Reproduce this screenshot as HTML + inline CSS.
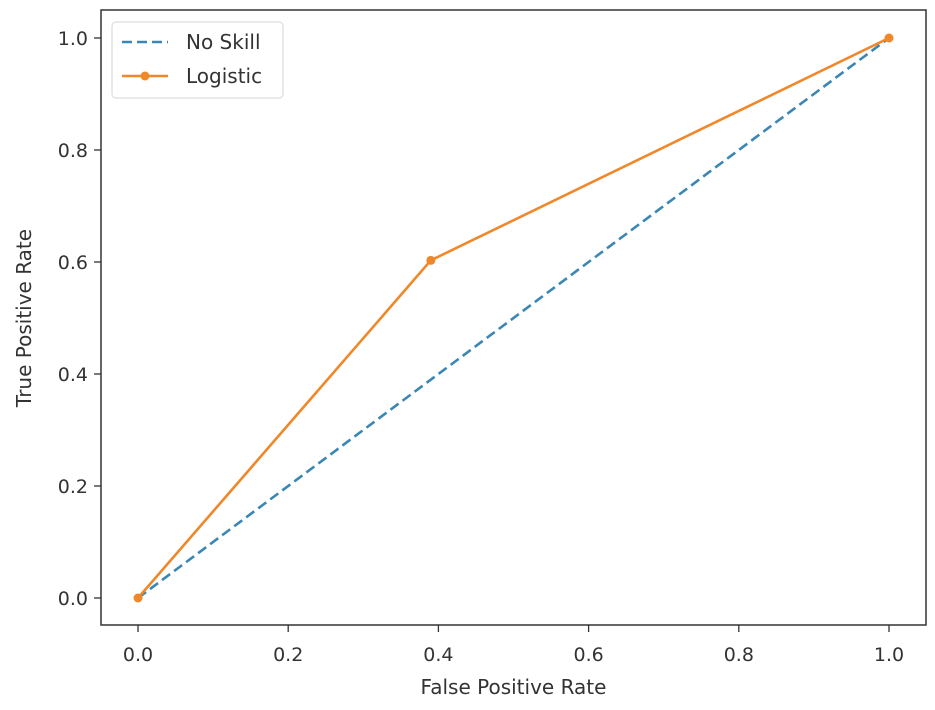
<!DOCTYPE html>
<html><head><meta charset="utf-8"><style>
body{margin:0;background:#fff;}
svg{display:block;font-family:"DejaVu Sans","Liberation Sans",sans-serif;}
</style></head><body>
<svg id="chart" width="935" height="710"></svg>
<script>
const xTicks=[0,0.2,0.4,0.6,0.8,1.0];
const yTicks=[0,0.2,0.4,0.6,0.8,1.0];
const noSkillX=[0,1];
const noSkillY=[0,1];
const logisticX=[0,0.39,1];
const logisticY=[0,0.603,1];
const NS='http://www.w3.org/2000/svg';
const svg=document.getElementById('chart');
const L=101,R=926,T=10,B=625;
function sx(v){return 138+v*751;}
function sy(v){return 598-v*560;}
function mk(tag,attrs,parent){const e=document.createElementNS(NS,tag);for(const k in attrs)e.setAttribute(k,attrs[k]);(parent||svg).appendChild(e);return e;}
// ticks
xTicks.forEach(v=>{
  const g=mk('g',{});
  
  
  mk('line',{x1:sx(v),x2:sx(v),y1:B,y2:B+7,stroke:'#333','stroke-width':1.3},g);
  const t=mk('text',{x:sx(v),y:B+36,'text-anchor':'middle','font-size':19,fill:'#333'},g);
  t.textContent=v.toFixed(1);
});
yTicks.forEach(v=>{
  const g=mk('g',{});
  
  
  mk('line',{x1:L-7,x2:L,y1:sy(v),y2:sy(v),stroke:'#333','stroke-width':1.3},g);
  const t=mk('text',{x:L-13,y:sy(v)+7,'text-anchor':'end','font-size':19,fill:'#333'},g);
  t.textContent=v.toFixed(1);
});
// series
const ns=mk('polyline',{points:noSkillX.map((x,i)=>sx(x)+','+sy(noSkillY[i])).join(' '),fill:'none',stroke:'#3a87b5','stroke-width':2.6,'stroke-dasharray':'10,5'});


const lg=mk('polyline',{points:logisticX.map((x,i)=>sx(x)+','+sy(logisticY[i])).join(' '),fill:'none',stroke:'#f0882a','stroke-width':2.6});


logisticX.forEach((x,i)=>{
  const c=mk('circle',{cx:sx(x),cy:sy(logisticY[i]),r:4.5,fill:'#f0882a'});
  
  
});
// frame
const f=mk('rect',{x:L,y:T,width:R-L,height:B-T,fill:'none',stroke:'#333','stroke-width':1.5});


// labels
const xl=mk('text',{x:(L+R)/2,y:694,'text-anchor':'middle','font-size':20,fill:'#333'});
xl.textContent='False Positive Rate';


const yl=mk('text',{x:0,y:0,'text-anchor':'middle','font-size':20,fill:'#333',transform:'translate(31,318) rotate(-90)'});
yl.textContent='True Positive Rate';


// legend
const leg=mk('g',{});


mk('rect',{x:112,y:22,width:171,height:76,rx:4,fill:'#fff','fill-opacity':0.85,stroke:'#ddd','stroke-width':1.2},leg);
mk('line',{x1:122,x2:168,y1:42,y2:42,stroke:'#3a87b5','stroke-width':2.6,'stroke-dasharray':'10,5'},leg);
const t1=mk('text',{x:186,y:49,'font-size':20,fill:'#333'},leg);t1.textContent='No Skill';
mk('line',{x1:122,x2:168,y1:76,y2:76,stroke:'#f0882a','stroke-width':2.6},leg);
mk('circle',{cx:145,cy:76,r:4.5,fill:'#f0882a'},leg);
const t2=mk('text',{x:186,y:83,'font-size':20,fill:'#333'},leg);t2.textContent='Logistic';
</script>
</body></html>
